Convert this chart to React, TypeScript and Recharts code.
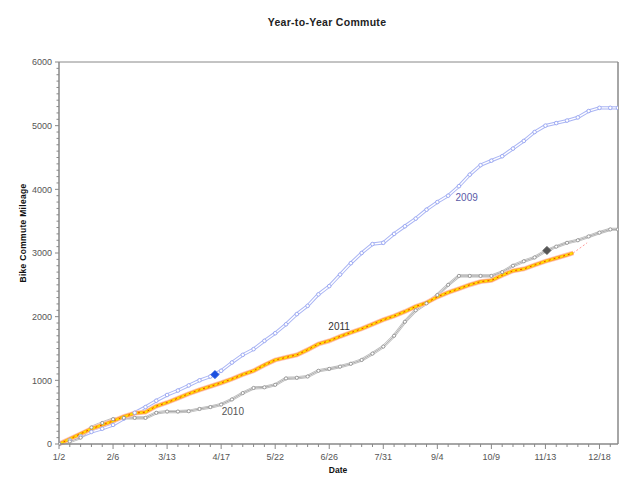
import React from 'react';
import { ComposedChart, Line, Scatter, XAxis, YAxis, ReferenceLine, ReferenceDot } from 'recharts';

// Days since Jan 2 (weekly samples)
const days = [0,7,14,21,28,35,42,49,56,63,70,77,84,91,98,105,112,119,126,133,140,147,154,161,168,175,182,189,196,203,210,217,224,231,238,245,252,259,266,273,280,287,294,301,308,315,322,329,336,343,350,357,362];
const miles2009 = [0,60,120,190,240,300, 400,490,580,680,770, 840,920,1000,1060,1150, 1280,1400,1490,1620,1740, 1880,2040,2170,2350,2480, 2660,2840,3000,3140,3160, 3300,3420,3540,3680,3800, 3900,4050,4230,4380,4450, 4520,4640,4760,4900,5000, 5040,5080,5130,5230,5280, 5280,5280];
const miles2010 = [0,40,100,260,330,390, 410,410,410,490,510, 510,515,550,580,620, 700,800,880,890,930, 1030,1040,1060,1150,1180, 1215,1260,1320,1420,1530, 1700,1920,2100,2210,2340, 2500,2640,2640,2640,2640, 2700,2800,2870,2930,3030, 3100,3160,3200,3260,3320, 3370,3370];
const days2011 = [0,7,14,21,28,35,42,49,56,63,70,77,84,91,98,105,112,119,126,133,140,147,154,161,168,175,182,189,196,203,210,217,224,231,238,245,252,259,266,273,280,287,294,301,308,315,322,329,333];
const miles2011 = [0,80,160,240,300,360, 430,485,500,595,650, 720,790,850,905,960, 1020,1090,1150,1240,1320, 1360,1400,1480,1570,1620, 1690,1750,1810,1880,1950, 2010,2080,2160,2220,2310, 2380,2440,2500,2550,2570, 2650,2720,2750,2810,2870, 2920,2970,3000];
const projDays2011 = [333, 342];
const projMiles2011 = [3000, 3160];
const highlight2009 = [{ d: 101, v: 1090 }];
const highlight2010 = [{ d: 316, v: 3040 }];

const majorTickDays = [0,35,70,105,140,175,210,245,280,315,350];
const majorTickLabels = ['1/2','2/6','3/13','4/17','5/22','6/26','7/31','9/4','10/9','11/13','12/18'];
const minorTickDays = days.filter((d) => d % 7 === 0);
const yTicks = Array.from({ length: 61 }, (_, i) => i * 100);

const data2009 = days.map((d, i) => ({ d, v: miles2009[i] }));
const data2010 = days.map((d, i) => ({ d, v: miles2010[i] }));
const data2011 = days2011.map((d, i) => ({ d, v: miles2011[i] }));
const proj2011 = projDays2011.map((d, i) => ({ d, v: projMiles2011[i] }));

const FONT = 'Arial, "Liberation Sans", sans-serif';

const XTick = (props: any) => {
  const { x, y, payload } = props;
  const idx = majorTickDays.indexOf(payload.value);
  const major = idx >= 0;
  return (
    <g>
      <line x1={x} x2={x} y1={y} y2={y + (major ? 5 : 3)} stroke="#888" strokeWidth={1} />
      {major && (
        <text x={x} y={y + 16} textAnchor="middle" fontSize={9} fill="#555" fontFamily={FONT}>
          {majorTickLabels[idx]}
        </text>
      )}
    </g>
  );
};

const YTick = (props: any) => {
  const { x, y, payload } = props;
  const major = payload.value % 1000 === 0;
  return (
    <g>
      <line x1={x} x2={x - (major ? 4 : 2.5)} y1={y} y2={y} stroke="#888" strokeWidth={1} />
      {major && (
        <text x={x - 7} y={y + 3.3} textAnchor="end" fontSize={9} fill="#555" fontFamily={FONT}>
          {payload.value}
        </text>
      )}
    </g>
  );
};

const Diamond = (color: string) => (props: any) => {
  const { cx, cy } = props;
  const s = 4;
  return <path d={`M${cx},${cy - s}L${cx + s},${cy}L${cx},${cy + s}L${cx - s},${cy}Z`} fill={color} stroke={color} />;
};

export default function App() {
  return (
    <div style={{ position: 'absolute', left: 0, top: 0, width: 640, height: 497, background: '#fff' }}>
      <ComposedChart width={640} height={497} margin={{ top: 62, right: 22, bottom: 0, left: 0 }}>
        <XAxis
          dataKey="d"
          type="number"
          domain={[0, 362]}
          ticks={minorTickDays}
          interval={0}
          height={53}
          tickSize={0}
          tickMargin={0}
          tickLine={false}
          tick={<XTick />}
          axisLine={{ stroke: '#888', strokeWidth: 1.5 }}
          allowDataOverflow
        />
        <YAxis
          dataKey="v"
          type="number"
          domain={[0, 6000]}
          ticks={yTicks}
          interval={0}
          width={59}
          tickSize={0}
          tickMargin={0}
          tickLine={false}
          tick={<YTick />}
          axisLine={{ stroke: '#888', strokeWidth: 1.5 }}
        />
        <ReferenceLine y={6000} stroke="#888" strokeWidth={1} />
        <ReferenceLine x={362} stroke="#888" strokeWidth={1.5} />

        {/* 2009 */}
        <Line data={data2009} dataKey="v" stroke="#aab5f4" strokeWidth={3.4} dot={false} activeDot={false} isAnimationActive={false} />
        <Line data={data2009} dataKey="v" stroke="#ffffff" strokeWidth={1.4} dot={{ r: 1.8, fill: '#fff', stroke: '#96a4f0', strokeWidth: 0.9 }} activeDot={false} isAnimationActive={false} />

        {/* 2010 */}
        <Line data={data2010} dataKey="v" stroke="#bcbcbc" strokeWidth={3.2} dot={false} activeDot={false} isAnimationActive={false} />
        <Line data={data2010} dataKey="v" stroke="#ffffff" strokeWidth={1.4} dot={false} activeDot={false} isAnimationActive={false} />
        <Line data={data2010} dataKey="v" stroke="#555" strokeWidth={0.5} dot={{ r: 1.6, fill: '#fff', stroke: '#888', strokeWidth: 0.8 }} activeDot={false} isAnimationActive={false} />

        {/* 2011 */}
        <Line data={proj2011} dataKey="v" stroke="#ff9a9a" strokeWidth={1} strokeDasharray="2 2" dot={false} activeDot={false} isAnimationActive={false} />
        <Line data={data2011} dataKey="v" stroke="#ffc8b8" strokeWidth={4.8} dot={false} activeDot={false} isAnimationActive={false} />
        <Line data={data2011} dataKey="v" stroke="#ff9a30" strokeWidth={3.2} dot={false} activeDot={false} isAnimationActive={false} />
        <Line data={data2011} dataKey="v" stroke="#ffe000" strokeWidth={2} dot={false} activeDot={false} isAnimationActive={false} />
        <Line data={data2011} dataKey="v" stroke="#ee1100" strokeWidth={0.8} strokeDasharray="2 3" dot={false} activeDot={false} isAnimationActive={false} />

        <Scatter data={highlight2009} dataKey="v" shape={Diamond('#1a4fe0')} isAnimationActive={false} />
        <Scatter data={highlight2010} dataKey="v" shape={Diamond('#555')} isAnimationActive={false} />

        <ReferenceDot x={264} y={3876} r={0} stroke="none" fill="none" label={{ value: '2009', position: 'center', fill: '#5a5aa8', fontSize: 10, fontFamily: FONT }} />
        <ReferenceDot x={112.6} y={506} r={0} stroke="none" fill="none" label={{ value: '2010', position: 'center', fill: '#555', fontSize: 10, fontFamily: FONT }} />
        <ReferenceDot x={181.4} y={1846} r={0} stroke="none" fill="none" label={{ value: '2011', position: 'center', fill: '#333', fontSize: 10, fontFamily: FONT }} />
      </ComposedChart>
      <svg width={640} height={497} style={{ position: 'absolute', left: 0, top: 0, pointerEvents: 'none' }}>
        <text x={327} y={25.5} textAnchor="middle" fontSize={10.5} fontWeight="bold" fill="#222" fontFamily={FONT} letterSpacing={0.3}>
          Year-to-Year Commute
        </text>
        <text x={338} y={473} textAnchor="middle" fontSize={8.5} fontWeight="bold" fill="#111" fontFamily={FONT}>
          Date
        </text>
        <text x={26} y={233} textAnchor="middle" fontSize={8.5} fontWeight="bold" fill="#111" fontFamily={FONT} transform="rotate(-90 26 233)" letterSpacing={0.3}>
          Bike Commute Mileage
        </text>
      </svg>
    </div>
  );
}
